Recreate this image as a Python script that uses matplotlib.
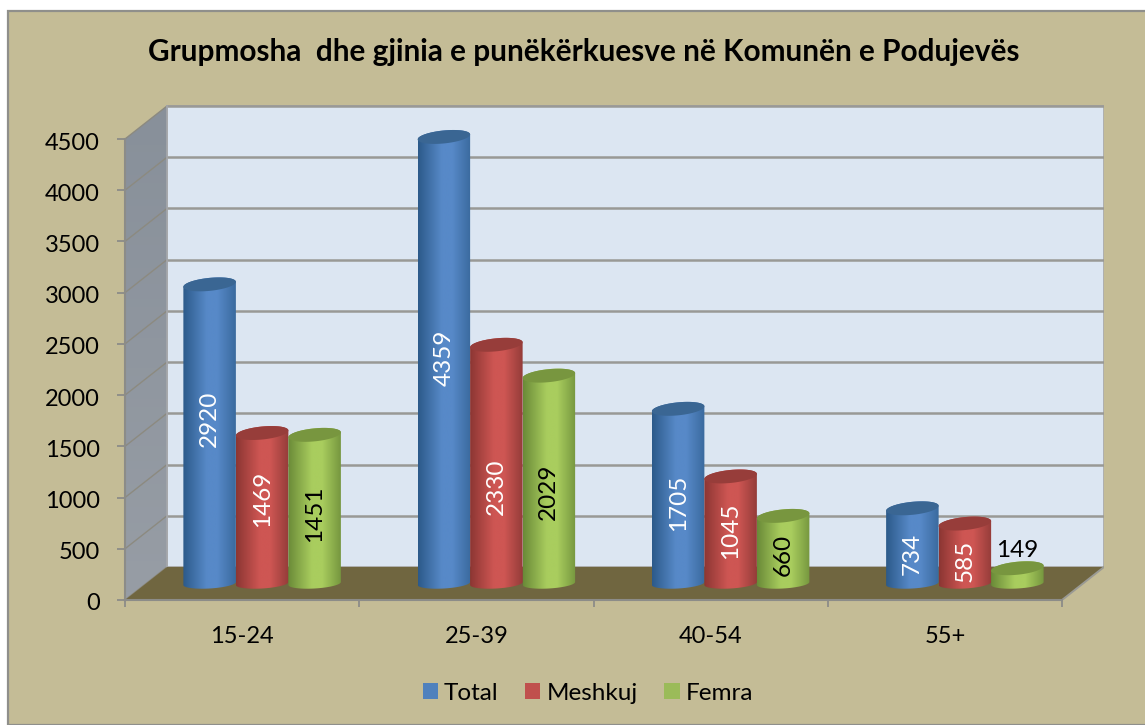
import matplotlib
matplotlib.use('Agg')
import matplotlib.pyplot as plt
import numpy as np
from matplotlib.colors import LinearSegmentedColormap
from matplotlib.patches import Patch, Polygon, Rectangle
from matplotlib.transforms import ScaledTranslation

plt.rcParams['font.family'] = ['Lato', 'DejaVu Sans']

# data
categories = ['15-24', '25-39', '40-54', '55+']
series_names = ['Total', 'Meshkuj', 'Femra']
total = [2920, 4359, 1705, 734]
meshkuj = [1469, 2330, 1045, 585]
femra = [1451, 2029, 660, 149]
y_ticks = [0, 500, 1000, 1500, 2000, 2500, 3000, 3500, 4000, 4500]

# label centres on the value axis, same order as the series
total_label_y = [1767, 2362, 947, 449]
meshkuj_label_y = [986, 1103, 673, 381]
femra_label_y = [839, 1054, 439, 488]

# colours: edge, light, edge, top of cylinder, legend
blue = ['#2C5A8A', '#5789C8', '#3A6A9E', '#3A6693', '#4F81BD']
red = ['#8C3633', '#CE5653', '#943C39', '#973D3A', '#C0504D']
green = ['#6A8A38', '#A9CD5E', '#76973F', '#78963F', '#9BBB59']

W, H = 1145, 725
px_per_cat = 234.25
px_per_val = 461 / 4500
depth_x = 42 / px_per_cat
depth_y = 33 / px_per_val
bar_w = 52.5 / px_per_cat
x_max = 979 / px_per_cat
y_max = 495 / px_per_val


def px_y(p):
    return p / px_per_val


def draw_cylinder(ax, xc, val, colours, z):
    base = px_y(16.5)
    t = np.linspace(0, 2 * np.pi, 121)
    tx = xc + bar_w / 2 * np.cos(t)
    top_y = base + val + px_y(6.5) * np.sin(t) + px_y(2.5) * np.cos(t)
    low = np.linspace(np.pi, 2 * np.pi, 60)
    lx = xc + bar_w / 2 * np.cos(low)
    ly = base + px_y(5) * np.sin(low) + px_y(1.5) * np.cos(low)
    up = np.linspace(0, np.pi, 60)
    ux = xc + bar_w / 2 * np.cos(up)
    uy = base + val + px_y(6.5) * np.sin(up) + px_y(2.5) * np.cos(up)

    body = Polygon(np.column_stack([np.r_[lx, ux], np.r_[ly, uy]]), closed=True,
                   fc='none', ec='none', zorder=z)
    ax.add_patch(body)
    cmap = LinearSegmentedColormap.from_list('c', [(0, colours[0]), (0.45, colours[1]),
                                                   (0.65, colours[1]), (1, colours[2])])
    im = ax.imshow(np.linspace(0, 1, 128).reshape(1, -1), cmap=cmap, aspect='auto',
                   extent=[xc - bar_w / 2, xc + bar_w / 2, base - px_y(8), base + val + px_y(10)],
                   zorder=z, interpolation='bilinear')
    im.set_clip_path(body)
    ax.add_patch(Polygon(np.column_stack([tx, top_y]), closed=True, fc=colours[3],
                         ec='none', zorder=z + 0.1))


fig = plt.figure(figsize=(W / 100, H / 100), dpi=100, facecolor='white')
fig.patches.append(Rectangle((8 / W, 0), 1, 1 - 11 / H, transform=fig.transFigure,
                             fc='#C4BC96', ec='#8F8F8B', lw=1.6, figure=fig, zorder=-5))

ax = fig.add_axes([125 / W, 1 - 600 / H, 979 / W, 495 / H])
ax.patch.set_visible(False)

# back wall, side wall, floor
ax.add_patch(Rectangle((depth_x, depth_y), x_max - depth_x, 4500, fc='#DCE6F2', ec='#A6A6A2',
                       lw=1.2, zorder=1))
for v in y_ticks[1:]:
    ax.plot([depth_x, x_max], [v + depth_y, v + depth_y], color='#999996', lw=1.8, zorder=1.5)

side = Polygon([(0, 0), (depth_x, depth_y), (depth_x, depth_y + 4500), (0, 4500)], closed=True,
               fc='none', ec='none', zorder=2)
ax.add_patch(side)
side_cmap = LinearSegmentedColormap.from_list('s', ['#979DA5', '#88909A'])
im = ax.imshow(np.linspace(0, 1, 64).reshape(-1, 1), cmap=side_cmap, origin='lower', aspect='auto',
               extent=[0, depth_x, 0, depth_y + 4500], zorder=2)
im.set_clip_path(side)
for v in y_ticks:
    ax.plot([0, depth_x], [v, v + depth_y], color='#8C8A80', lw=1, zorder=2.5)
ax.plot([depth_x, depth_x], [depth_y, depth_y + 4500], color='#A6A8AC', lw=1.2, zorder=2.5)

ax.add_patch(Polygon([(0, 0), (4, 0), (x_max, depth_y), (depth_x, depth_y)], closed=True,
                     fc='#706640', ec='none', zorder=3))
ax.plot([4, x_max], [0, depth_y], color='#9A9A94', lw=1.4, zorder=3.1)

# cylinders
all_series = [total, meshkuj, femra]
all_labels = [total_label_y, meshkuj_label_y, femra_label_y]
all_colours = [blue, red, green]
for j, (vals, label_y, cols) in enumerate(zip(all_series, all_labels, all_colours)):
    for i, v in enumerate(vals):
        xc = i + 0.5 + 20 / px_per_cat + (j - 1) * bar_w
        draw_cylinder(ax, xc, v, cols, 4 + j)
        if v < 200:
            ax.text(xc, label_y[i], str(v), color='black', fontsize=17.5,
                    ha='center', va='center', zorder=10)
        else:
            ax.text(xc, label_y[i], str(v), color='black' if j == 2 else 'white', fontsize=17.5,
                    rotation=90, ha='center', va='center', zorder=10)

ax.set_xlim(0, x_max)
ax.set_ylim(0, y_max)

ax.spines['top'].set_visible(False)
ax.spines['right'].set_visible(False)
ax.spines['left'].set_bounds(0, 4500)
ax.spines['bottom'].set_bounds(0, 4)
for s in ['left', 'bottom']:
    ax.spines[s].set_color('#8C8C88')
    ax.spines[s].set_linewidth(1.5)
    ax.spines[s].set_zorder(11)

ax.set_yticks(y_ticks)
ax.set_xticks(range(5))
ax.set_xticklabels([])
ax.set_xticks(np.arange(len(categories)) + 0.5, minor=True)
ax.set_xticklabels(categories, minor=True)
ax.tick_params(axis='y', length=6, width=1.3, color='#8C8C88', pad=12, labelsize=17)
ax.tick_params(axis='x', which='major', length=5, width=1.3, color='#8C8C88')
ax.tick_params(axis='x', which='minor', length=0, pad=19, labelsize=17)
# tick labels sit a little lower than the tick marks
shift = ScaledTranslation(0, -2 / 100, fig.dpi_scale_trans)
for label in ax.get_yticklabels():
    label.set_transform(label.get_transform() + shift)

fig.text(584 / W, 1 - 52 / H, 'Grupmosha  dhe gjinia e punëkërkuesve në Komunën e Podujevës',
         ha='center', va='center', fontsize=21.4, fontweight='bold', color='black')

handles = [Patch(fc=c[4], ec='none') for c in all_colours]
fig.legend(handles, series_names, loc='center', bbox_to_anchor=(588 / W, 1 - 693 / H), ncol=3,
           frameon=False, fontsize=17.5, handlelength=0.62, handleheight=0.62, handletextpad=0.25,
           columnspacing=1.1)

fig.savefig('out.png', dpi=100)
